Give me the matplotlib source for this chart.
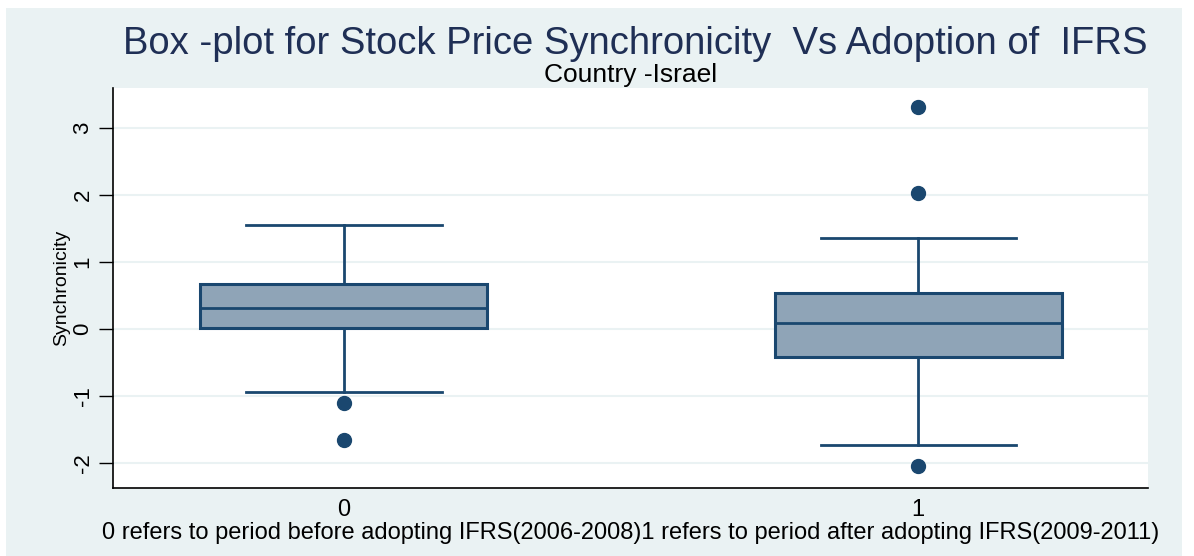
import matplotlib
matplotlib.use("Agg")
import matplotlib.pyplot as plt
from matplotlib.patches import Rectangle

###################
## Data
###################
groups = [0, 1]
group_labels = ["0", "1"]
medians = [0.31, 0.10]
q1 = [0.015, -0.42]
q3 = [0.67, 0.54]
whisker_low = [-0.94, -1.73]
whisker_high = [1.55, 1.36]
outliers = [[-1.10, -1.66], [3.31, 2.04, -2.04]]
y_ticks = [-2, -1, 0, 1, 2, 3]

###################
## Style
###################
plt.rcParams["font.family"] = ["Liberation Sans", "DejaVu Sans"]
navy = "#1a476f"
box_fill = "#8fa4b7"
bg = "#eaf2f3"

fig = plt.figure(figsize=(11.94, 5.56), dpi=100, facecolor="white")
fig.patches.append(Rectangle((6 / 1194, 0), 1176 / 1194, 548 / 556,
                             transform=fig.transFigure, facecolor=bg,
                             edgecolor="none", zorder=-10))

ax = fig.add_axes([113 / 1194, 68 / 556, 1035 / 1194, 400 / 556])
ax.set_facecolor("white")

stats = []
for i in range(len(groups)):
  stats.append({
    "med": medians[i], "q1": q1[i], "q3": q3[i],
    "whislo": whisker_low[i], "whishi": whisker_high[i],
    "fliers": outliers[i],
  })

ax.bxp(
  stats, positions=groups, widths=0.5, patch_artist=True,
  showfliers=True,
  boxprops=dict(facecolor=box_fill, edgecolor=navy, linewidth=2.2),
  medianprops=dict(color=navy, linewidth=2),
  whiskerprops=dict(color=navy, linewidth=2),
  capprops=dict(color=navy, linewidth=2),
  capwidths=0.34,
  flierprops=dict(marker="o", markerfacecolor=navy, markeredgecolor=navy,
                  markersize=10),
)

ax.set_xlim(-0.402, 1.40)
ax.set_ylim(-2.37, 3.6)
ax.set_yticks(y_ticks)
ax.set_yticklabels([str(t) for t in y_ticks], rotation=90, va="center",
                   fontsize=16)
ax.set_xticks(groups)
ax.set_xticklabels(group_labels, fontsize=17)
ax.tick_params(axis="x", length=0, pad=8)
ax.tick_params(axis="y", length=10, width=1, pad=4)
ax.grid(axis="y", color=bg, linewidth=1.5)
ax.set_axisbelow(True)
for side in ["top", "right"]:
  ax.spines[side].set_visible(False)
for side in ["left", "bottom"]:
  ax.spines[side].set_linewidth(1.2)

ax.set_ylabel("Synchronicity", fontsize=14, labelpad=2)
ax.set_xlabel("0 refers to period before adopting IFRS(2006-2008)"
              "1 refers to period after adopting IFRS(2009-2011)",
              fontsize=17, labelpad=1)

fig.text(635 / 1194, 1 - 54 / 556,
         "Box -plot for Stock Price Synchronicity  Vs Adoption of  IFRS",
         ha="center", va="baseline", fontsize=27.5, color="#1f2f55")
fig.text(631 / 1194, 1 - 82 / 556, "Country -Israel",
         ha="center", va="baseline", fontsize=19, color="black")

fig.savefig("out.png", dpi=100, facecolor=fig.get_facecolor())
